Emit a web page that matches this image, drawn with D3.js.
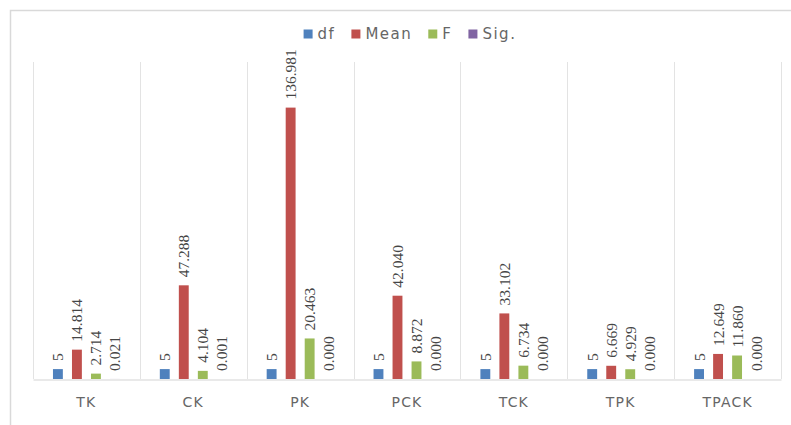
<!DOCTYPE html>
<html>
<head>
<meta charset="utf-8">
<script src="https://cdn.jsdelivr.net/npm/d3@7/dist/d3.min.js"></script>
<style>
  html, body { margin: 0; padding: 0; background: #fff; }
  svg { display: block; }
</style>
</head>
<body>
<script>
// ANOVA summary per knowledge domain
const categories = ["TK", "CK", "PK", "PCK", "TCK", "TPK", "TPACK"];
const seriesNames = ["df", "Mean", "F", "Sig."];
const dfValues   = [5, 5, 5, 5, 5, 5, 5];
const meanValues = [14.814, 47.288, 136.981, 42.040, 33.102, 6.669, 12.649];
const fValues    = [2.714, 4.104, 20.463, 8.872, 6.734, 4.929, 11.860];
const sigValues  = [0.021, 0.001, 0.000, 0.000, 0.000, 0.000, 0.000];
const labelFormats = [d3.format("d"), d3.format(".3f"), d3.format(".3f"), d3.format(".3f")];
const colors = ["#4f81bd", "#c0504d", "#9bbb59", "#8064a2"];
const yMax = 160;

const series = [dfValues, meanValues, fValues, sigValues];
const rows = categories.map((c, i) => ({
  cat: c,
  vals: series.map((s, k) => ({ key: seriesNames[k], k, v: s[i] }))
}));

const W = 791, H = 425;
const plot = { left: 33, right: 781, top: 62, bottom: 379 };

const svg = d3.select("body").append("svg")
  .attr("width", W).attr("height", H);

// chart area frame (top and left edges fall inside the window)
svg.append("rect")
  .attr("x", 10.5).attr("y", 10.5)
  .attr("width", W + 20).attr("height", H + 20)
  .attr("fill", "#fff").attr("stroke", "#d9d9d9").attr("stroke-width", 1.5);

const x0 = d3.scaleBand().domain(categories)
  .range([plot.left, plot.right]).paddingInner(0).paddingOuter(0);
const x1 = d3.scaleBand().domain(seriesNames)
  .range([0, x0.bandwidth()]).paddingOuter(1.05).paddingInner(0.48);
const y = d3.scaleLinear().domain([0, yMax]).range([plot.bottom, plot.top]);

// vertical gridlines at category boundaries
const bounds = categories.map(c => x0(c)).concat([x0.range()[1]]);
svg.append("g").selectAll("line").data(bounds).join("line")
  .attr("x1", d => Math.round(d) + 0.5).attr("x2", d => Math.round(d) + 0.5)
  .attr("y1", plot.top).attr("y2", plot.bottom)
  .attr("stroke", "#e3e3e3").attr("stroke-width", 1);

// category axis
const xAxis = svg.append("g")
  .attr("transform", `translate(0,${plot.bottom + 0.5})`)
  .call(d3.axisBottom(x0).tickSize(0).tickPadding(18));
xAxis.select(".domain").attr("stroke", "#d4d4d4").attr("stroke-width", 1.2);
xAxis.selectAll("text")
  .attr("font-family", "'DejaVu Sans', sans-serif")
  .attr("font-size", 14).attr("letter-spacing", 1.2)
  .attr("fill", "#666666");

// bars and value labels
const groups = svg.append("g").selectAll("g").data(rows).join("g")
  .attr("transform", d => `translate(${x0(d.cat)},0)`);

groups.selectAll("rect").data(d => d.vals).join("rect")
  .attr("x", d => x1(d.key))
  .attr("width", x1.bandwidth())
  .attr("y", d => y(d.v))
  .attr("height", d => y(0) - y(d.v))
  .attr("fill", d => colors[d.k]);

groups.selectAll("text.val").data(d => d.vals).join("text")
  .attr("class", "val")
  .attr("transform", d => `translate(${x1(d.key) + x1.bandwidth() / 2},${y(d.v) - 8}) rotate(-90)`)
  .attr("dominant-baseline", "central")
  .attr("text-anchor", "start")
  .attr("font-family", "'Liberation Serif', serif")
  .attr("font-size", 15.5)
  .attr("fill", "#454545")
  .text(d => labelFormats[d.k](d.v));

// legend, centred above the plot
const legend = svg.append("g").attr("transform", "translate(0,34)");
const items = legend.selectAll("g").data(seriesNames).join("g");
items.append("rect")
  .attr("y", -4.5).attr("width", 9).attr("height", 9)
  .attr("fill", (d, i) => colors[i]);
items.append("text")
  .attr("x", 14).attr("dominant-baseline", "central")
  .attr("font-family", "'DejaVu Sans', sans-serif")
  .attr("font-size", 15).attr("letter-spacing", 1.5)
  .attr("fill", "#666666")
  .text(d => d);
let cursor = 0;
const offsets = [];
items.each(function () {
  offsets.push(cursor);
  cursor += this.getBBox().width + 16;
});
const totalW = cursor - 16;
const startX = (plot.left + plot.right) / 2 - totalW / 2 + 3;
items.attr("transform", (d, i) => `translate(${startX + offsets[i]},0)`);
</script>
</body>
</html>
